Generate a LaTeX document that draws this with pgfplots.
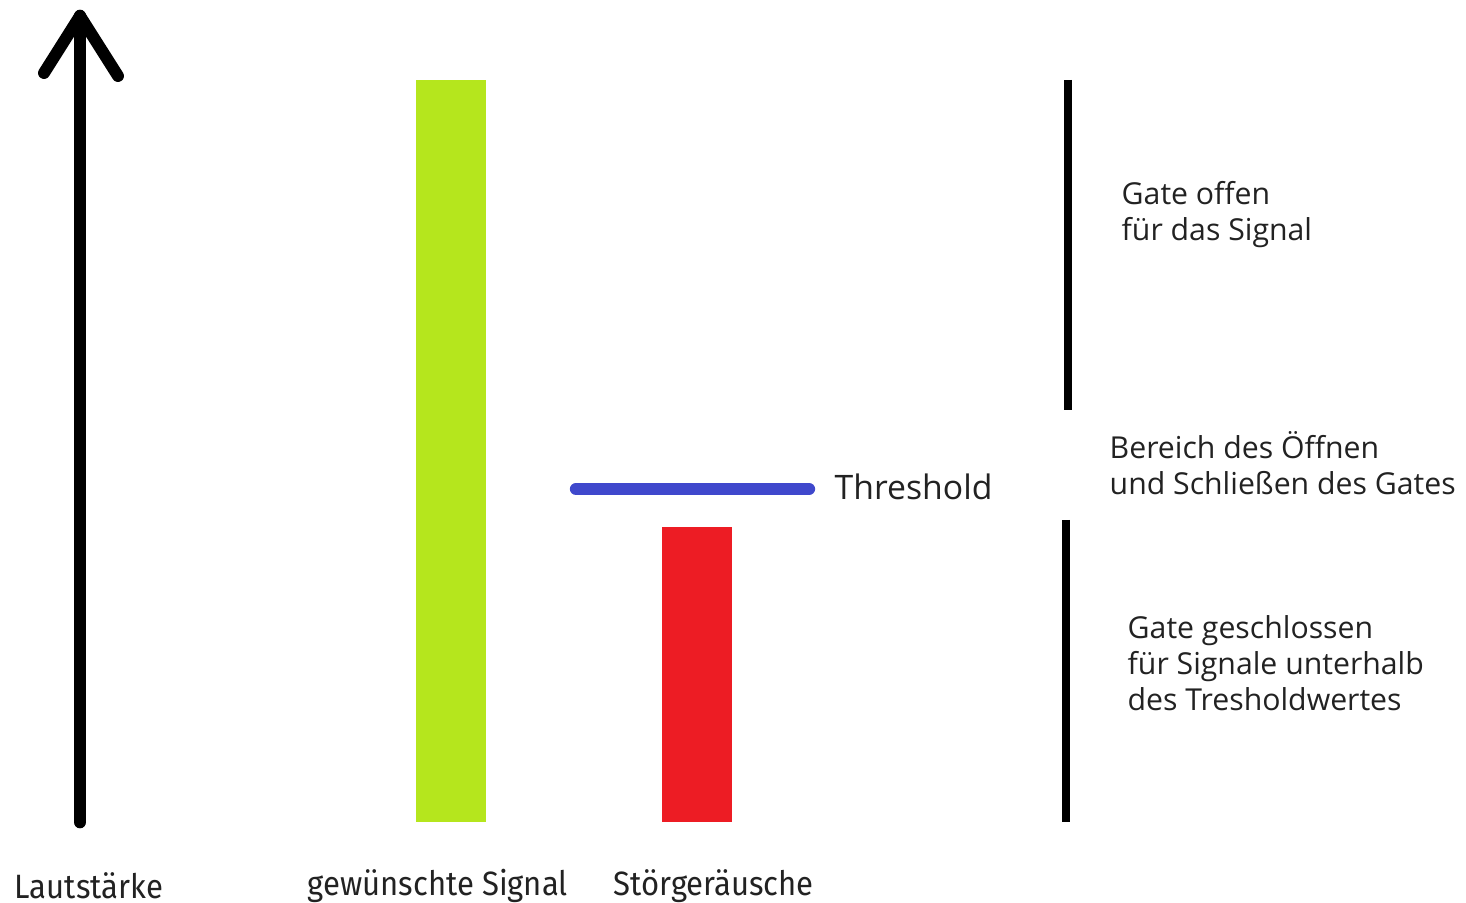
\documentclass[border=0pt]{standalone}
\usepackage{pgfplots}
\pgfplotsset{compat=1.18}
\usepackage{fontspec}
\setmainfont{Open Sans}
\newfontfamily\condfont[FakeStretch=0.92]{Fira Sans}
\definecolor{pgreen}{HTML}{B5E61D}
\definecolor{pred}{HTML}{ED1C24}
\definecolor{pblue}{HTML}{3F48CC}
\definecolor{txt}{HTML}{222222}
\begin{document}
\begin{tikzpicture}
\begin{axis}[
  width=14.66cm, height=9.02cm, scale only axis,
  xmin=0, xmax=1466, ymin=-80, ymax=822,
  hide axis, clip=false,
]
\path (rel axis cs:0,0) rectangle (rel axis cs:1,1);
% bars
\addplot[ybar, bar width=70, fill=pgreen, draw=none] coordinates {(451,742)};
\addplot[ybar, bar width=70, fill=pred, draw=none] coordinates {(697,295)};
% volume arrow
\addplot[black, line width=3.6pt, line cap=round, line join=round] coordinates {(80,0) (80,806)};
\addplot[black, line width=3.4pt, line cap=round, line join=round] coordinates {(44,749) (80,806) (118,746)};
% threshold
\addplot[pblue, line width=3.5pt, line cap=round] coordinates {(576,333) (809,333)};
% gate lines
\addplot[black, line width=2.2pt] coordinates {(1068,742) (1068,412)};
\addplot[black, line width=2.2pt] coordinates {(1066,302) (1066,0)};
% texts
\node[anchor=west, inner sep=0pt, text=txt, font=\fontsize{9.6}{12}\selectfont] at (axis cs:834,335) {Threshold};
\node[anchor=west, inner sep=0pt, text=txt, align=left, font=\fontsize{8.6}{10.2}\selectfont] at (axis cs:1121,607) {Gate offen\\für das Signal};
\node[anchor=west, inner sep=0pt, text=txt, align=left, font=\fontsize{8.6}{10.2}\selectfont] at (axis cs:1109,359) {Bereich des Öffnen\\und Schließen des Gates};
\node[anchor=west, inner sep=0pt, text=txt, align=left, font=\fontsize{8.6}{10.2}\selectfont] at (axis cs:1127,159) {Gate geschlossen\\für Signale unterhalb\\des Tresholdwertes};
\node[anchor=west, inner sep=0pt, text=txt, font=\condfont\fontsize{9.6}{10}\selectfont] at (axis cs:14,-64) {Lautstärke};
\node[anchor=west, inner sep=0pt, text=txt, font=\condfont\fontsize{9.6}{10}\selectfont] at (axis cs:307,-64) {gewünschte Signal};
\node[anchor=west, inner sep=0pt, text=txt, font=\condfont\fontsize{9.6}{10}\selectfont] at (axis cs:613,-64) {Störgeräusche};
\end{axis}
\end{tikzpicture}
\end{document}
